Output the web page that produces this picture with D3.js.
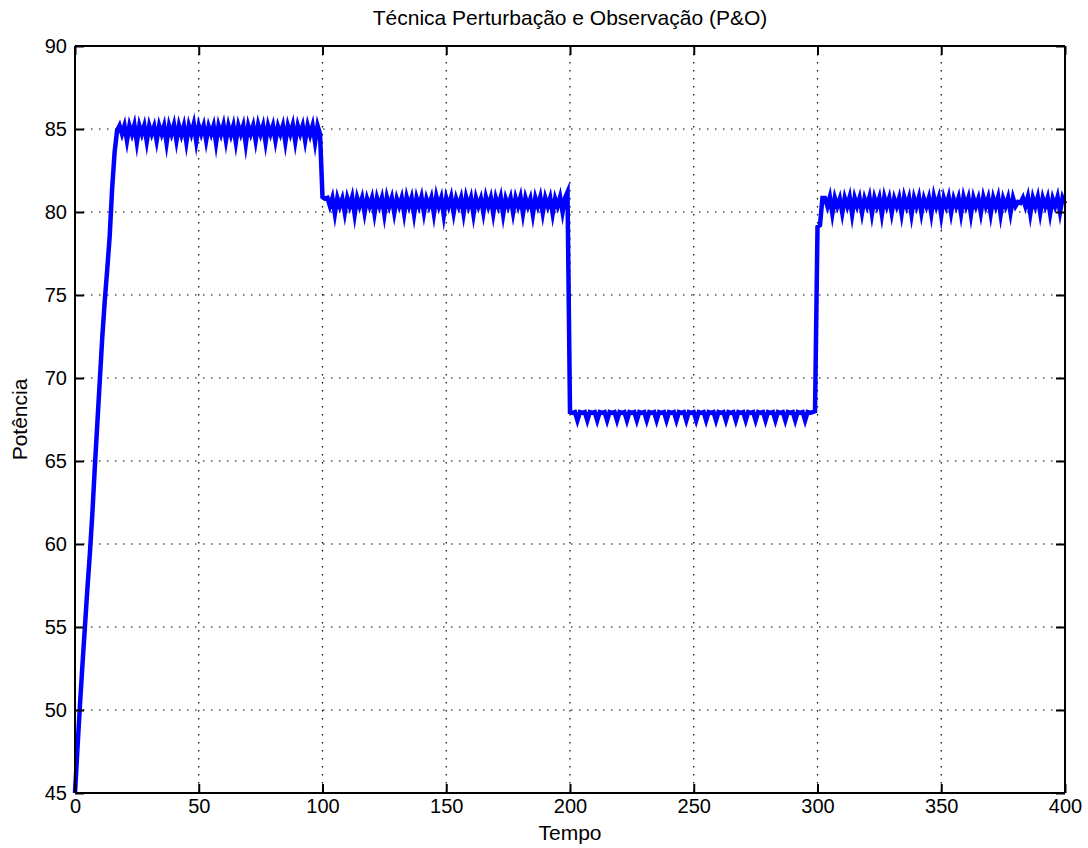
<!DOCTYPE html>
<html><head><meta charset="utf-8">
<script src="https://cdn.jsdelivr.net/npm/d3@7"></script>
<style>
body{margin:0;background:#fff}
text{font-family:"Liberation Sans",Arial,Helvetica,sans-serif;fill:#000}
</style>
</head><body>
<svg id="chart" width="1088" height="848"></svg>
<script>
const titleText = "Técnica Perturbação e Observação (P&O)";
const xLabelText = "Tempo";
const yLabelText = "Potência";
const xTicks = [0, 50, 100, 150, 200, 250, 300, 350, 400];
const yTicks = [45, 50, 55, 60, 65, 70, 75, 80, 85, 90];
const sampleStep = 1;

// t = 0..17 : start-up ramp
const rampPower = [45.0, 47.7, 50.3, 52.7, 55.0, 57.3, 59.4, 61.8, 64.6, 67.2,
  69.8, 72.4, 74.6, 76.5, 78.5, 81.4, 83.6, 84.9];
// t = 18..99 : oscillation around ~85
const plateau1 = [
  85.2, 84.7, 85.2, 84.3, 85.2, 84.7, 85.25, 84.2, 85.2, 84.7,
  85.2, 84.25, 85.2, 84.7, 85.15, 84.3, 85.2, 84.7, 85.2, 84.15,
  85.2, 84.7, 85.25, 84.3, 85.2, 84.65, 85.2, 84.2, 85.2, 84.7,
  85.3, 84.25, 85.2, 84.7, 85.2, 84.3, 85.15, 84.7, 85.2, 84.15,
  85.2, 84.7, 85.25, 84.3, 85.2, 84.65, 85.2, 84.2, 85.2, 84.7,
  85.2, 84.1, 85.2, 84.7, 85.2, 84.3, 85.25, 84.7, 85.2, 84.2,
  85.2, 84.7, 85.2, 84.3, 85.15, 84.7, 85.2, 84.2, 85.2, 84.7,
  85.25, 84.25, 85.2, 84.7, 85.2, 84.3, 85.2, 84.65, 85.2, 84.2,
  85.2, 84.7];
// t = 100..199 : oscillation around ~80.5
const plateau2 = [
  80.9, 80.8, 80.85, 80.35, 80.85, 79.9, 80.85, 80.35, 80.8, 79.95,
  80.85, 80.35, 80.9, 79.85, 80.85, 80.35, 80.85, 79.95, 80.8, 80.35,
  80.85, 79.9, 80.85, 80.35, 80.85, 79.85, 80.9, 80.35, 80.85, 79.95,
  80.8, 80.35, 80.85, 79.9, 80.9, 80.35, 80.85, 79.85, 80.85, 80.35,
  80.9, 79.95, 80.8, 80.35, 80.85, 79.9, 80.95, 80.35, 80.85, 79.8,
  80.85, 80.35, 80.9, 79.95, 80.8, 80.35, 80.85, 79.9, 80.9, 80.35,
  80.85, 79.85, 80.85, 80.35, 80.8, 79.95, 80.9, 80.35, 80.85, 79.9,
  80.85, 80.35, 80.9, 79.85, 80.8, 80.35, 80.85, 79.95, 80.85, 80.35,
  80.9, 79.9, 80.85, 80.35, 80.8, 79.85, 80.85, 80.35, 80.9, 79.95,
  80.85, 80.35, 80.85, 79.9, 80.8, 80.35, 80.9, 80.0, 80.85, 81.2];
// t = 200..299 : oscillation around ~68
const plateau3 = [
  67.95, 67.9, 67.95, 67.45, 67.95, 67.9, 67.95, 67.45, 67.95, 67.9,
  67.95, 67.45, 67.95, 67.9, 67.95, 67.45, 67.95, 67.9, 67.95, 67.45,
  67.95, 67.9, 67.95, 67.45, 67.95, 67.9, 67.95, 67.45, 67.95, 67.9,
  67.95, 67.45, 67.95, 67.9, 67.95, 67.45, 67.95, 67.9, 67.95, 67.45,
  67.95, 67.9, 67.95, 67.45, 67.95, 67.9, 67.95, 67.45, 67.95, 67.9,
  67.95, 67.45, 67.95, 67.9, 67.95, 67.45, 67.95, 67.9, 67.95, 67.45,
  67.95, 67.9, 67.95, 67.45, 67.95, 67.9, 67.95, 67.45, 67.95, 67.9,
  67.95, 67.45, 67.95, 67.9, 67.95, 67.45, 67.95, 67.9, 67.95, 67.45,
  67.95, 67.9, 67.95, 67.45, 67.95, 67.9, 67.95, 67.45, 67.95, 67.9,
  67.95, 67.45, 67.95, 67.9, 67.95, 67.45, 67.95, 67.9, 67.95, 68.0];
// t = 300..400 : oscillation around ~80.5
const plateau4 = [
  79.1, 79.2, 80.85, 80.85, 80.35, 80.9, 79.9, 80.85, 80.35, 80.8,
  79.95, 80.85, 80.35, 80.9, 79.85, 80.85, 80.35, 80.85, 79.95, 80.8,
  80.35, 80.9, 79.9, 80.85, 80.35, 80.85, 79.85, 80.9, 80.35, 80.85,
  79.95, 80.8, 80.35, 80.85, 79.9, 80.9, 80.35, 80.85, 79.85, 80.85,
  80.35, 80.9, 79.95, 80.8, 80.35, 80.85, 79.9, 80.95, 80.35, 80.85,
  79.8, 80.85, 80.35, 80.9, 79.95, 80.8, 80.35, 80.85, 79.9, 80.9,
  80.35, 80.85, 79.85, 80.85, 80.35, 80.8, 79.95, 80.9, 80.35, 80.85,
  79.9, 80.85, 80.35, 80.9, 79.85, 80.8, 80.35, 80.85, 79.95, 80.85,
  80.35, 80.6, 80.55, 80.85, 80.35, 80.9, 79.9, 80.85, 80.35, 80.9,
  79.95, 80.85, 80.35, 80.85, 79.9, 80.8, 80.35, 80.9, 80.0, 80.85,
  80.5];

const segments = [
  {start: 0, values: rampPower},
  {start: 18, values: plateau1},
  {start: 100, values: plateau2},
  {start: 200, values: plateau3},
  {start: 300, values: plateau4}
];
const series = [];
segments.forEach(s => s.values.forEach((v, i) => series.push({t: (s.start + i) * sampleStep, p: v})));

const svg = d3.select("#chart");
const L = 75, R = 1065, T = 46, B = 793;
const x = d3.scaleLinear().domain([0, 400]).range([L, R]);
const y = d3.scaleLinear().domain([45, 90]).range([B, T]);

svg.append("rect").attr("width", 1088).attr("height", 848).attr("fill", "#fff");

// grid
const grid = svg.append("g").attr("stroke", "#000").attr("stroke-width", 1.2).attr("stroke-dasharray", "1.5,6.5");
grid.selectAll(".gx").data(xTicks.slice(1, -1)).join("line")
  .attr("x1", d => x(d)).attr("x2", d => x(d)).attr("y1", T).attr("y2", B);
grid.selectAll(".gy").data(yTicks.slice(1, -1)).join("line")
  .attr("y1", d => y(d)).attr("y2", d => y(d)).attr("x1", L).attr("x2", R);

// data line
const line = d3.line().x(d => x(d.t)).y(d => y(d.p));
svg.append("path").datum(series).attr("d", line)
  .attr("fill", "none").attr("stroke", "#0000ff").attr("stroke-width", 4.5)
  .attr("stroke-linejoin", "miter").attr("stroke-miterlimit", 10);

// axes (MATLAB style box with inward ticks)
const tl = 9;
const axisBottom = d3.axisBottom(x).tickValues(xTicks).tickSize(-tl).tickPadding(6).tickFormat(d3.format("d"));
const axisTop = d3.axisTop(x).tickValues(xTicks).tickSize(-tl).tickFormat("");
const axisLeft = d3.axisLeft(y).tickValues(yTicks).tickSize(-tl).tickPadding(8).tickFormat(d3.format("d"));
const axisRight = d3.axisRight(y).tickValues(yTicks).tickSize(-tl).tickFormat("");

function style(g) {
  g.select(".domain").attr("stroke", "#000").attr("stroke-width", 2);
  g.selectAll(".tick line").attr("stroke", "#000").attr("stroke-width", 2);
  g.selectAll(".tick text").attr("font-family", "Liberation Sans, Arial, sans-serif").attr("font-size", 20).attr("fill", "#000");
}
svg.append("g").attr("transform", `translate(0,${B})`).call(axisBottom).call(style)
  .call(g => g.select(".domain").attr("d", `M${L},0H${R}`));
svg.append("g").attr("transform", `translate(0,${T})`).call(axisTop).call(style)
  .call(g => g.select(".domain").attr("d", `M${L},0H${R}`));
svg.append("g").attr("transform", `translate(${L},0)`).call(axisLeft).call(style)
  .call(g => g.select(".domain").attr("d", `M0,${T}V${B}`));
svg.append("g").attr("transform", `translate(${R},0)`).call(axisRight).call(style)
  .call(g => g.select(".domain").attr("d", `M0,${T}V${B}`));

// labels
svg.append("text").attr("x", (L + R) / 2).attr("y", 25).attr("text-anchor", "middle")
  .attr("font-size", 21).text(titleText);
svg.append("text").attr("x", (L + R) / 2).attr("y", 840).attr("text-anchor", "middle")
  .attr("font-size", 21).text(xLabelText);
svg.append("text").attr("transform", `translate(27,${(T + B) / 2}) rotate(-90)`).attr("text-anchor", "middle")
  .attr("font-size", 21).text(yLabelText);
</script>
</body></html>
